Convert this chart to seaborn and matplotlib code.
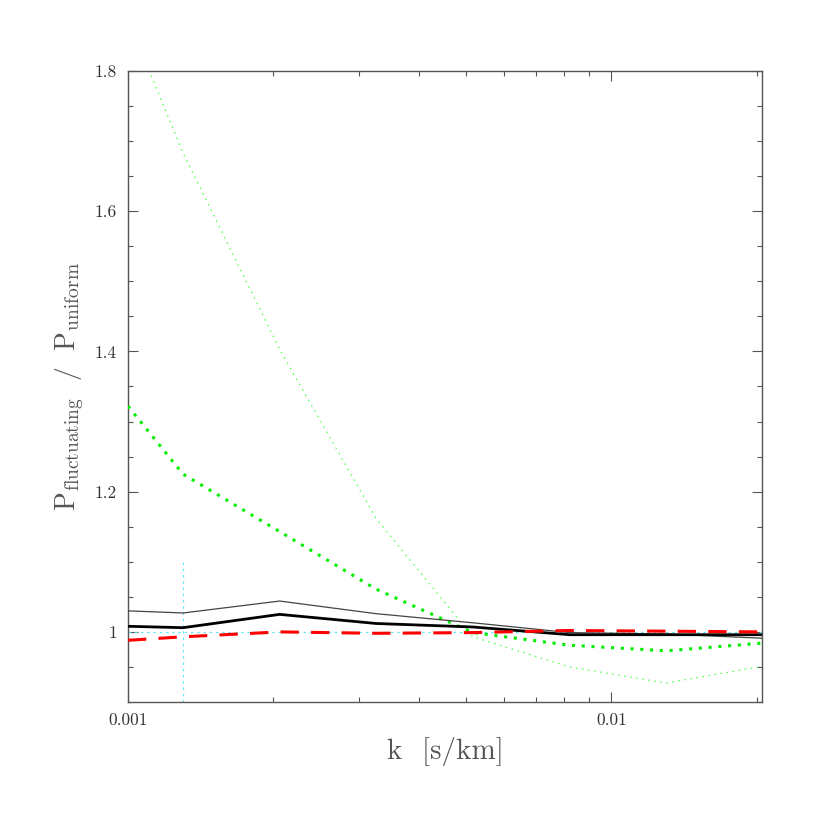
import numpy as np
import pandas as pd
import matplotlib
matplotlib.use("Agg")
import matplotlib.pyplot as plt
import seaborn as sns
from matplotlib.ticker import FixedLocator, FixedFormatter, NullFormatter

# Data
k = [0.001, 0.0013, 0.00206, 0.00326, 0.00517, 0.0082, 0.013, 0.0205]
green_thin = [1.874, 1.683, 1.403, 1.162, 0.993, 0.950, 0.927, 0.951]
green_thick = [1.322, 1.225, 1.143, 1.061, 0.999, 0.981, 0.973, 0.984]
black_thin = [1.030, 1.027, 1.044, 1.026, 1.013, 0.999, 0.997, 0.991]
black_thick = [1.008, 1.006, 1.025, 1.012, 1.007, 0.996, 0.996, 0.996]
red_dashed = [0.988, 0.993, 1.000, 0.998, 0.999, 1.002, 1.001, 1.000]

ref_level = 1.0
marker_k = 0.0013
marker_range = [0.9, 1.1]

y_major = [1.0, 1.2, 1.4, 1.6, 1.8]
y_major_labels = ["1", "1.2", "1.4", "1.6", "1.8"]
y_minor = [0.9, 0.95, 1.05, 1.1, 1.15, 1.25, 1.3, 1.35, 1.45, 1.5, 1.55, 1.65, 1.7, 1.75]
x_major = [0.001, 0.01]
x_major_labels = ["0.001", "0.01"]

sns.set_style("ticks")
plt.rcParams["font.family"] = ["cmr10", "DejaVu Serif"]
plt.rcParams["mathtext.fontset"] = "cm"
plt.rcParams["axes.formatter.use_mathtext"] = True

fig = plt.figure(figsize=(8.3, 8.3), dpi=100)
ax = fig.add_axes([0.1542, 0.1542, 0.7638, 0.7603])

# reference lines
ax.axhline(ref_level, color="#66e8f0", lw=0.9, ls=(0, (2, 3)), zorder=1)
ax.vlines(marker_k, marker_range[0], marker_range[1], color="#66e8f0", lw=0.9, ls=(0, (2, 3)), zorder=1)

sns.lineplot(x=k, y=green_thin, ax=ax, color="#44ff44", lw=0.8, linestyle=(0, (1.5, 4)), zorder=2)
sns.lineplot(x=k, y=green_thick, ax=ax, color="#00ee00", lw=2.2, linestyle=(0, (1, 2.2)), zorder=3)
sns.lineplot(x=k, y=black_thin, ax=ax, color="#444444", lw=0.9, zorder=4)
sns.lineplot(x=k, y=black_thick, ax=ax, color="black", lw=2.0, zorder=5)
sns.lineplot(x=k, y=red_dashed, ax=ax, color="#ff0000", lw=2.2, linestyle=(0, (6, 4)), zorder=6)

ax.set_xscale("log")
ax.set_xlim(0.001, 0.0205)
ax.set_ylim(0.9, 1.8)

ax.yaxis.set_major_locator(FixedLocator(y_major))
ax.yaxis.set_major_formatter(FixedFormatter(y_major_labels))
ax.yaxis.set_minor_locator(FixedLocator(y_minor))
ax.xaxis.set_major_locator(FixedLocator(x_major))
ax.xaxis.set_major_formatter(FixedFormatter(x_major_labels))
ax.xaxis.set_minor_formatter(NullFormatter())

for s in ax.spines.values():
    s.set_color("#555555")
    s.set_linewidth(1.0)
    s.set_visible(True)

ax.tick_params(which="both", direction="in", top=True, right=True, color="#555555",
               labelcolor="#333333", labelsize=12.5, width=0.8)
ax.tick_params(which="major", length=7.5, pad=8)
ax.tick_params(which="minor", length=3.8)

ax.set_xlabel(r"k  [s/km]", fontsize=21, color="#555555", labelpad=6)
ax.set_ylabel(r"$\mathrm{P_{fluctuating}\ \ /\ \ P_{uniform}}$", fontsize=20, color="#555555", labelpad=6)

fig.savefig("out.png", dpi=100)
